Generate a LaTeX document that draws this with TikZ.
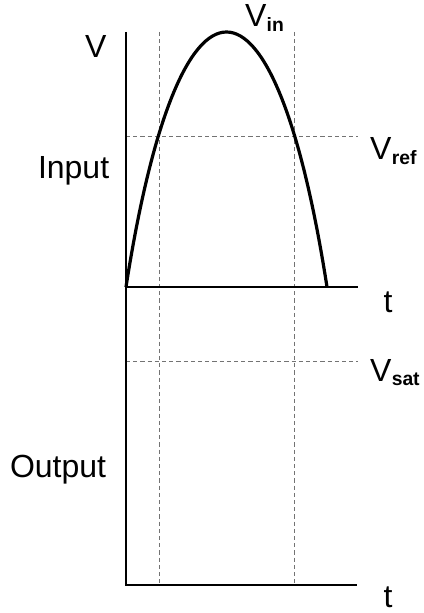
\documentclass[tikz,border=0pt]{standalone}
\usepackage{fontspec}
\setmainfont{Liberation Sans}
\newcommand\biglab{\fontsize{24}{28}\selectfont}
\newcommand\vsub[1]{V\kern0.3pt\raisebox{-3.5pt}{\fontsize{14.5}{16}\selectfont\bfseries #1}}
\begin{document}
\begin{tikzpicture}[x=0.75pt,y=-0.75pt,
  axisthick/.style={line width=1.5pt},
  axisthin/.style={line width=0.9pt},
  guide/.style={draw=black!55,line width=0.75pt,dash pattern=on 3.2pt off 2.2pt},
  wave/.style={line width=2.4pt},
  lab/.style={inner sep=0pt,outer sep=0pt,font=\biglab,anchor=base west}]
\useasboundingbox (0,0) rectangle (424,613);
% named points
\coordinate (top) at (126,32);
\coordinate (o1) at (126,287);
\coordinate (x1) at (358,287);
\coordinate (o2) at (126,585);
\coordinate (x2) at (357,585);
\coordinate (g1t) at (159,32);
\coordinate (g1b) at (159,585);
\coordinate (g2t) at (294,32);
\coordinate (g2b) at (294,585);
\coordinate (r1) at (126,137);
\coordinate (r2) at (358,137);
\coordinate (s1) at (126,361);
\coordinate (s2) at (358,361);
\coordinate (cend) at (327,287);
% guides
\draw[guide] (g1t) -- (g1b);
\draw[guide] (g2t) -- (g2b);
\draw[guide] (r1) -- (r2);
\draw[guide] (s1) -- (s2);
% axes
\draw[axisthick] (top) -- (o1) -- (x1);
\draw[axisthin] (o1) -- (o2) -- (x2);
% wave
\draw[wave] (o1) .. controls (179,-53) and (274,-53) .. (cend);
% labels
\node[lab] (lV) at (85,58) {V};
\node[lab] (lin) at (38,178) {Input};
\node[lab] (lout) at (10,477) {Output};
\node[lab,anchor=base] (lt1) at (388,312) {t};
\node[lab,anchor=base] (lt2) at (388,607) {t};
\node[lab] (lvin) at (245,27) {\vsub{in}};
\node[lab] (lvref) at (370,160) {\vsub{ref}};
\node[lab] (lvsat) at (370,381) {\vsub{sat}};
\end{tikzpicture}
\end{document}
